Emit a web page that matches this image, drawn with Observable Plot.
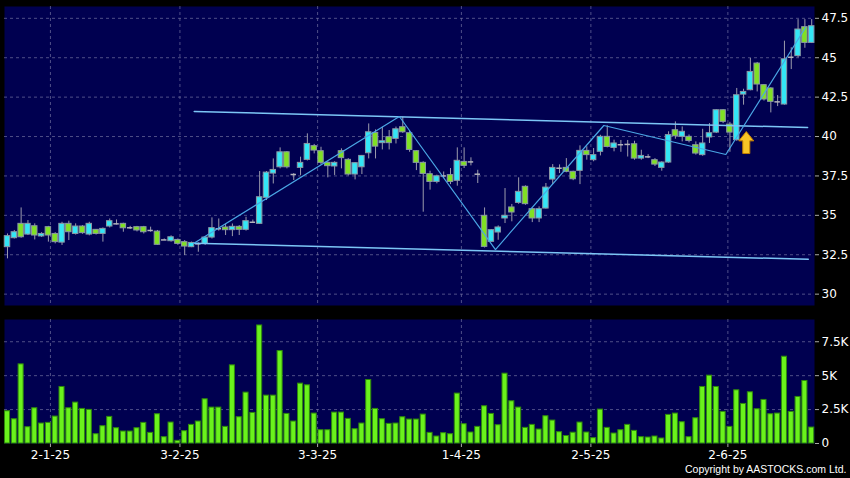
<!DOCTYPE html>
<html><head><meta charset="utf-8">
<script src="https://cdn.jsdelivr.net/npm/d3@7"></script>
<script src="https://cdn.jsdelivr.net/npm/@observablehq/plot@0.6"></script>
<style>
html,body{margin:0;padding:0;background:#000;}
#chart{width:850px;height:478px;background:#000;overflow:hidden;}
#chart svg{display:block;}
#chart g[aria-label^="x-axis"] line, #chart g[aria-label^="x-axis"] path,
#chart g[aria-label^="y-axis"] line, #chart g[aria-label^="y-axis"] path{stroke:#a8a8a8;}
</style></head><body><div id="chart"></div>
<script>
// ---- data (one entry per trading day, left to right) ----
const open = [32.98,33.55,34.46,33.78,34.31,33.66,34.25,33.82,33.27,34.46,33.82,34.29,33.78,34.08,33.82,34.29,34.46,34.46,34.21,34.25,
34.25,34.04,33.97,33.44,33.36,33.44,33.30,32.98,33.19,33.19,33.59,34.15,34.23,34.06,34.27,34.08,34.56,34.46,36.11,37.65,
38.05,39.00,37.59,38.01,38.52,39.39,39.07,38.33,38.10,39.07,38.52,37.59,38.05,38.94,40.23,39.58,39.96,39.85,40.59,40.21,
39.07,38.33,37.61,37.12,37.50,37.55,37.19,38.39,38.39,37.61,34.97,33.32,33.91,34.80,35.50,35.79,36.81,35.39,34.80,35.43,
37.27,37.99,38.01,37.76,37.82,39.09,38.50,39.03,39.98,39.28,39.48,39.50,39.51,38.60,38.71,38.50,38.01,38.35,40.40,39.98,
39.98,39.45,38.82,39.94,40.25,41.67,40.76,39.77,42.66,42.94,44.63,43.26,43.05,42.20,42.03,45.03,45.10,46.94,45.94];
const high = [33.82,34.04,35.47,34.67,34.46,33.90,34.30,33.90,34.56,34.63,34.46,34.35,34.56,34.10,34.20,34.77,34.71,34.50,34.30,34.30,
34.30,34.25,34.04,33.50,33.70,33.50,33.40,33.30,33.25,33.65,34.84,34.77,34.42,34.45,34.35,34.88,34.70,37.78,37.78,38.58,
39.28,39.05,37.65,38.69,40.17,39.50,39.32,38.40,38.40,39.22,38.60,38.35,38.80,40.80,40.42,40.59,40.38,40.60,41.23,40.34,
39.10,38.40,37.80,37.55,37.75,37.97,39.28,39.28,38.65,37.86,35.47,34.10,34.33,36.70,35.69,37.38,36.87,35.45,35.54,37.02,
38.22,38.20,38.60,37.80,39.41,39.35,39.24,40.08,40.68,39.77,39.75,39.75,39.70,39.13,38.85,38.60,38.40,40.30,40.93,40.61,
40.10,39.66,40.46,40.82,41.70,41.70,40.90,43.05,43.00,44.95,44.70,43.30,43.10,42.60,46.05,45.63,47.42,47.42,47.42];
const low = [32.24,33.50,33.55,33.72,33.44,33.60,33.30,33.19,33.09,33.40,33.75,33.80,33.70,33.75,33.30,34.20,34.39,33.93,34.10,33.95,
33.82,33.93,33.10,33.40,33.30,33.10,32.45,32.95,32.66,33.10,33.50,34.00,33.72,33.65,33.72,34.00,34.50,34.42,35.94,36.99,
37.95,37.95,37.21,37.53,38.45,38.90,38.20,37.38,37.53,37.95,37.50,37.25,37.59,38.58,38.58,39.15,39.15,39.53,40.20,39.00,
37.84,35.20,36.60,37.00,37.35,36.95,36.85,37.97,38.14,37.02,32.93,33.30,33.42,34.48,34.59,35.70,35.64,34.54,34.54,35.40,
36.95,37.65,37.70,37.20,36.95,38.50,38.40,38.77,39.28,39.03,39.00,38.70,38.50,38.50,38.60,38.10,37.80,38.30,39.83,39.66,
39.60,38.82,38.75,39.56,40.19,40.82,39.00,39.70,41.99,42.90,42.83,42.25,41.50,41.90,41.99,44.25,44.99,45.60,45.90];
const close = [33.68,33.93,33.61,34.46,33.72,33.82,33.72,33.30,34.46,33.93,34.29,33.87,34.46,33.82,34.14,34.63,34.46,34.18,34.21,34.04,
33.93,34.04,33.13,33.44,33.61,33.19,33.02,33.25,33.19,33.59,34.19,34.15,34.06,34.27,34.08,34.63,34.56,36.15,37.71,37.88,
39.00,38.05,37.59,38.33,39.53,39.11,38.33,38.12,38.33,38.63,37.59,38.31,38.77,40.27,39.36,39.70,39.58,40.46,40.27,39.15,
38.33,37.63,37.12,37.48,37.50,37.12,38.46,38.14,38.39,37.61,33.00,34.06,34.23,34.97,35.18,36.49,35.71,34.80,35.39,36.76,
38.01,37.99,37.76,37.29,39.09,38.82,38.82,39.98,39.34,39.56,39.48,39.50,38.60,38.77,38.71,38.22,38.35,40.09,40.02,40.30,
39.72,38.92,39.56,40.21,41.67,40.93,40.25,42.62,42.83,44.10,43.30,42.35,42.20,42.20,44.90,45.03,46.79,45.94,47.00];
const volume = [2377,1789,5833,1201,2598,1471,1520,1985,4167,2598,3015,2549,2476,686,1275,1961,1127,882,882,1127,
1520,784,2157,466,1544,196,907,1373,1618,3260,2647,2647,1226,5760,1936,3750,2255,8701,3529,3529,
6814,2181,1618,4412,4289,2206,980,980,2279,2279,1814,1054,1471,4681,2549,1789,1446,1471,1936,1765,
1765,2132,784,515,760,686,3677,1422,809,1226,2745,2181,1348,5147,3113,2647,1152,1373,1029,2010,
1691,833,552,795,1544,809,392,2500,1152,735,980,1373,931,466,441,515,368,2108,2206,1569,
466,1863,4167,5000,4167,2328,1226,3922,2917,3775,2525,3211,2157,2206,6397,2328,3431,4608,1176];

// x-axis labels (d-m-yy) and their positions in trading-day units
const tickLabels = ["2-1-25","3-2-25","3-3-25","1-4-25","2-5-25","2-6-25"];
const tickIndex = [6.3, 25.3, 45.5, 66.6, 85.6, 105.7];
const priceTicks = [30, 32.5, 35, 37.5, 40, 42.5, 45, 47.5];
const volumeTicks = [0, 2500, 5000, 7500];

// drawn annotations (trading-day index, price)
const upperLine = [{i: 27.4, p: 41.59}, {i: 117.4, p: 40.57}];
const lowerLine = [{i: 27.4, p: 33.23}, {i: 117.5, p: 32.21}];
const zigzag = [{i: 27.3, p: 33.21}, {i: 57.5, p: 41.27}, {i: 71.6, p: 32.83}, {i: 87.5, p: 40.70}, {i: 105.4, p: 38.86}, {i: 117.1, p: 46.92}];
const arrowPoint = [{i: 108.4, p: 39.62}];
const copyright = ["Copyright by AASTOCKS.com Ltd."];

// ---- build ----
const candles = open.map((o, i) => ({i, o, h: high[i], l: low[i], c: close[i], v: volume[i]}));
const ups = candles.filter(d => d.c > d.o);
const downs = candles.filter(d => d.c < d.o);
const flats = candles.filter(d => d.c === d.o);

const navy = "#000050";
const gridColor = "#7070a0";
const cyan = "#33e6f6";
const green = "#80e024";
const bodyStroke = "#8a98a4";
const xDomain = [-0.44, 118.41];
const W = 0.4;

const arrowSymbol = {
  draw(ctx, size) {
    const r = Math.sqrt(size / Math.PI);
    ctx.moveTo(0, -r);
    ctx.lineTo(0.68 * r, -0.15 * r);
    ctx.lineTo(0.32 * r, -0.15 * r);
    ctx.lineTo(0.32 * r, r);
    ctx.lineTo(-0.32 * r, r);
    ctx.lineTo(-0.32 * r, -0.15 * r);
    ctx.lineTo(-0.68 * r, -0.15 * r);
    ctx.closePath();
  }
};

const baseStyle = {background: "transparent", color: "#ffffff", fontFamily: "'DejaVu Sans', sans-serif", fontSize: "12px", overflow: "visible"};

const priceChart = Plot.plot({
  width: 850, height: 312,
  marginLeft: 4, marginRight: 36, marginTop: 6, marginBottom: 7,
  style: baseStyle,
  x: {domain: xDomain, axis: null},
  y: {domain: [29.28, 48.25], axis: "right", ticks: priceTicks, tickFormat: d => String(d), tickSize: 4, tickPadding: 3, label: null},
  marks: [
    Plot.frame({fill: navy, stroke: "none"}),
    Plot.ruleY(priceTicks, {y: d => d, stroke: gridColor, strokeDasharray: "3,3", strokeOpacity: 0.7}),
    Plot.ruleX(tickIndex, {x: d => d, stroke: gridColor, strokeDasharray: "3,3", strokeOpacity: 0.7}),
    Plot.ruleX(candles, {x: "i", y1: "l", y2: "h", stroke: "#9c9cac", strokeWidth: 1}),
    Plot.rect(ups, {x1: d => d.i - W, x2: d => d.i + W, y1: "o", y2: "c", fill: cyan, stroke: bodyStroke, strokeWidth: 1}),
    Plot.rect(downs, {x1: d => d.i - W, x2: d => d.i + W, y1: "o", y2: "c", fill: green, stroke: bodyStroke, strokeWidth: 1}),
    Plot.ruleY(flats, {y: "o", x1: d => d.i - W, x2: d => d.i + W, stroke: "#b4b4bc", strokeWidth: 1.5}),
    Plot.line(upperLine, {x: "i", y: "p", stroke: "#7cc6f6", strokeWidth: 1.5}),
    Plot.line(lowerLine, {x: "i", y: "p", stroke: "#7cc6f6", strokeWidth: 1.5}),
    Plot.line(zigzag, {x: "i", y: "p", stroke: "#4aa6e4", strokeWidth: 1.2}),
    Plot.dot(arrowPoint, {x: "i", y: "p", symbol: arrowSymbol, r: 11, fill: "#f8c526", stroke: "#c07c00", strokeWidth: 1})
  ]
});

const volumeChart = Plot.plot({
  width: 850, height: 166,
  marginLeft: 4, marginRight: 36, marginTop: 7, marginBottom: 35,
  style: baseStyle,
  x: {domain: xDomain, ticks: tickIndex, tickFormat: d => tickLabels[tickIndex.indexOf(d)], tickSize: 4, tickPadding: 3, label: null},
  y: {domain: [0, 9140], axis: "right", ticks: volumeTicks, tickFormat: d => d === 0 ? "0" : (d / 1000) + "K", tickSize: 4, tickPadding: 3, label: null},
  marks: [
    Plot.frame({fill: navy, stroke: "none"}),
    Plot.ruleY(volumeTicks.slice(1), {y: d => d, stroke: gridColor, strokeDasharray: "3,3", strokeOpacity: 0.7}),
    Plot.ruleX(tickIndex, {x: d => d, stroke: gridColor, strokeDasharray: "3,3", strokeOpacity: 0.7}),
    Plot.rect(candles, {x1: d => d.i - 0.37, x2: d => d.i + 0.37, y1: 0, y2: "v", fill: "#6af21c", stroke: "#2f8a0c", strokeWidth: 1}),
    Plot.text(copyright, {frameAnchor: "bottom-right", text: d => d, dx: 32, dy: 29, textAnchor: "end", fill: "#ffffff", fontSize: 10.5, fontFamily: "'Liberation Sans', Arial, sans-serif"})
  ]
});

const chart = document.getElementById("chart");
chart.appendChild(priceChart);
chart.appendChild(volumeChart);
</script>
</body></html>
